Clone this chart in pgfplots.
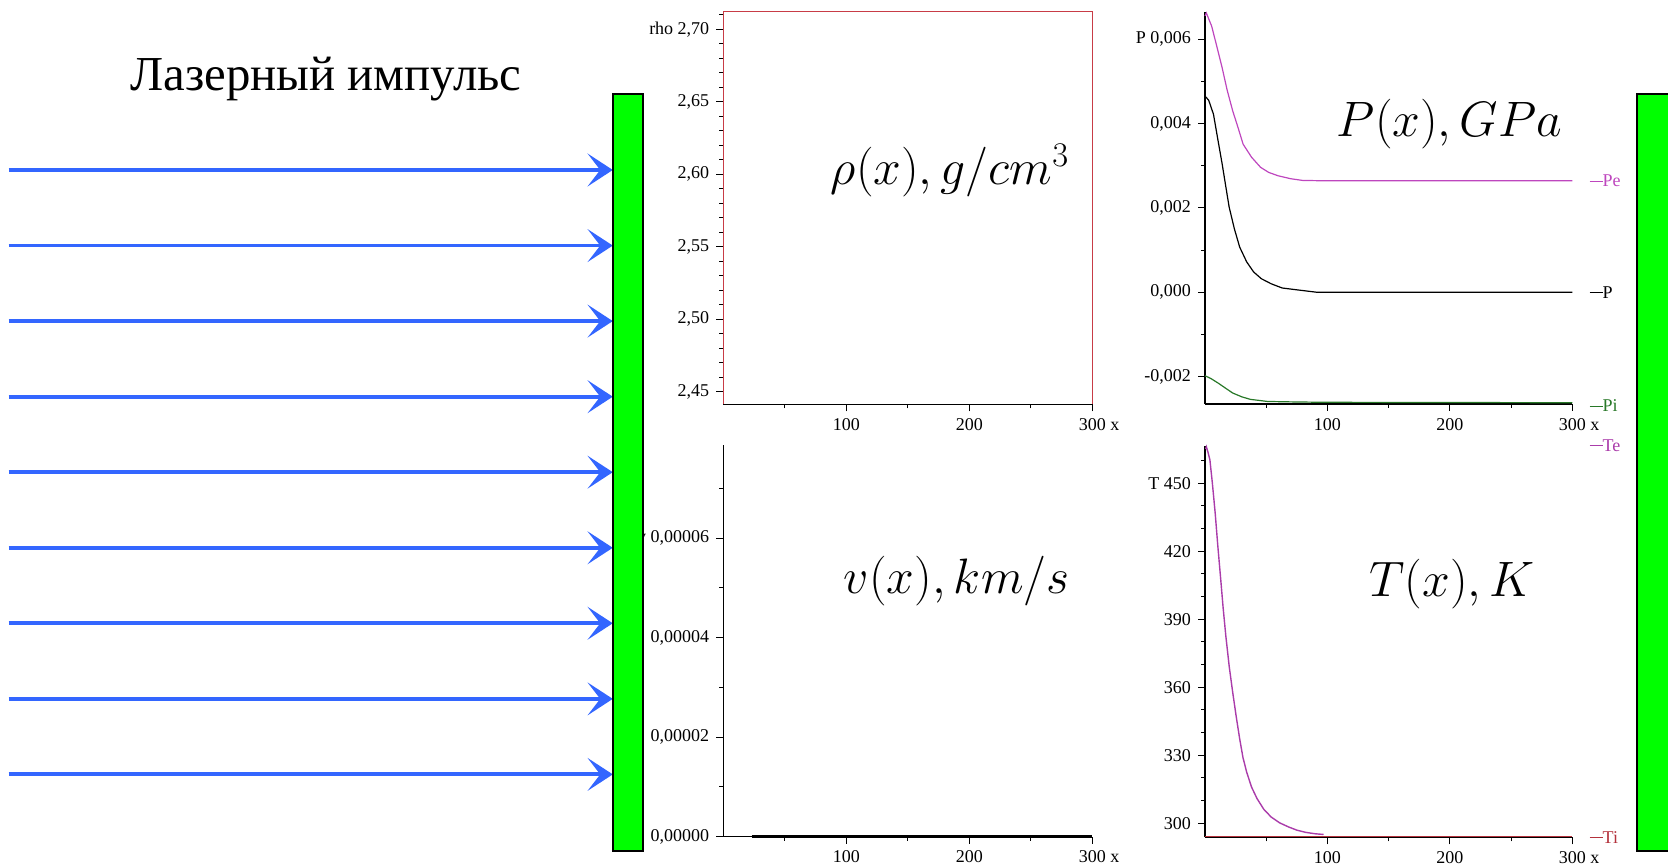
\documentclass[border=0pt]{standalone}
\usepackage{fontspec}
\setmainfont{Liberation Serif}
\usepackage{pgfplots}
\pgfplotsset{compat=1.18}
\usetikzlibrary{arrows.meta}
\definecolor{laser}{RGB}{51,102,255}
\definecolor{framered}{RGB}{200,60,70}
\definecolor{pe}{RGB}{190,70,190}
\definecolor{te}{RGB}{170,60,170}
\definecolor{pig}{RGB}{40,120,40}
\definecolor{ti}{RGB}{180,50,60}
\definecolor{bar}{RGB}{0,255,0}
\newcommand{\legdash}{\rule[0.28em]{6.5pt}{0.5pt}}
\tikzset{leg/.style={anchor=west, font=\fontsize{9}{10}\selectfont, inner sep=0pt}}
\pgfplotsset{
  maple/.style={
    scale only axis, clip=false,
    xmin=0, xmax=300,
    xtick={100,200,300}, minor xtick={50,150,250},
    xticklabels={100,200,{300\rlap{\ x}}},
    axis lines*=left, axis line style={-, line width=0.6pt},
    tick align=outside, major tick length=3.5pt, minor tick length=2pt,
    every tick/.style={black, line width=0.5pt},
    tick label style={font=\fontsize{9}{10}\selectfont},
    scaled ticks=false,
    every axis plot/.append style={no marks, line width=0.6pt},
  },
}
\begin{document}
\begin{tikzpicture}
\useasboundingbox (0pt,0pt) rectangle (834pt,432.5pt);

% ---------- rho ----------
\begin{axis}[maple, at={(361.65pt,230.35pt)}, anchor=south west,
  width=184.5pt, height=196.3pt, ymin=2.4413, ymax=2.7121,
  ytick={2.45,2.50,2.55,2.60,2.65,2.70},
  yticklabels={{2,45},{2,50},{2,55},{2,60},{2,65},{\llap{rho\ }2,70}},
  minor ytick={2.46,2.47,2.48,2.49,2.51,2.52,2.53,2.54,2.56,2.57,2.58,2.59,2.61,2.62,2.63,2.64,2.66,2.67,2.68,2.69,2.71}]
\addplot[framered, line width=0.7pt] coordinates {(0,2.4413) (0,2.7121) (300,2.7121) (300,2.4413)};
\end{axis}

% ---------- P ----------
\begin{axis}[maple, at={(602.5pt,230.5pt)}, anchor=south west,
  width=183.65pt, height=196.15pt, ymin=-0.00265, ymax=0.00665,
  ytick={-0.002,0,0.002,0.004,0.006},
  yticklabels={{-0,002},{0,000},{0,002},{0,004},{\llap{P\ }0,006}},
  minor ytick={-0.001,0.001,0.003,0.005}]
\addplot[pe] coordinates {(0,0.00655) (1.1,0.00662) (3,0.00648) (5.4,0.00631) (9,0.0059) (14,0.00532) (18,0.0048) (22.6,0.0043) (27,0.0039) (31.1,0.00351) (38,0.0032) (45.4,0.00296) (52,0.00284) (59.7,0.00276) (70,0.00269) (79.7,0.00265) (100,0.00264) (300,0.00264)};
\addplot[black] coordinates {(0,0.00465) (3,0.00455) (6.9,0.00422) (10,0.0037) (14,0.00304) (17,0.0025) (19.7,0.00202) (24,0.0015) (28.3,0.00107) (34,0.00072) (39.7,0.00048) (46,0.00032) (54,0.0002) (63,0.0001) (74,0.00006) (91,0) (300,0)};
\addplot[pig] coordinates {(0,-0.00198) (5,-0.00205) (11,-0.00216) (17,-0.00228) (22.6,-0.00239) (30,-0.00248) (37,-0.00254) (51,-0.00259) (70,-0.0026) (96,-0.00261) (300,-0.00262)};
\node[leg, text=pe, xshift=8.5pt] at (axis cs:300,0.00264) {\legdash Pe};
\node[leg, text=black, xshift=8.5pt] at (axis cs:300,0) {\legdash P};
\node[leg, text=pig, xshift=8.5pt, yshift=-1pt] at (axis cs:300,-0.00265) {\legdash Pi};
\end{axis}

% ---------- v ----------
\begin{axis}[maple, at={(361.65pt,14.15pt)}, anchor=south west,
  width=184.5pt, height=195.85pt, ymin=0, ymax=0.0000787,
  ytick={0,0.00002,0.00004,0.00006},
  yticklabels={{0,00000},{0,00002},{0,00004},{\llap{v\ }0,00006}},
  minor ytick={0.00001,0.00003,0.00005,0.00007}]
\addplot[black, line width=1.3pt] coordinates {(23,0) (100,0) (200,0) (300,0)};
\end{axis}

% ---------- T ----------
\begin{axis}[maple, at={(602.5pt,13.85pt)}, anchor=south west,
  width=183.65pt, height=195.8pt, ymin=293.85, ymax=466.5,
  ytick={300,330,360,390,420,450},
  yticklabels={300,330,360,390,420,{\llap{T\ }450}},
  minor ytick={310,320,340,350,370,380,400,410,430,440,460}]
\addplot[ti, line width=0.7pt] coordinates {(0,294.1) (100,294.1) (200,294.1) (300,294.1)};
\addplot[te, line width=0.7pt] coordinates {(0.5,465) (1.1,466) (2.5,463.5) (4,460.2) (6,450) (8.3,436.8) (10.5,422) (12.6,409) (14.8,395) (17,382.6) (19.8,369) (22.6,357.8) (25.5,347) (28.3,337.3) (31,329) (34,322.6) (38,316) (42.5,310.9) (48,306.2) (54,302.8) (61,300.2) (68.3,298.4) (75,297) (82.5,296) (90,295.4) (96.8,295.1)};
\node[leg, text=te, xshift=8.5pt] at (rel axis cs:1,1) {\legdash Te};
\node[leg, text=ti, xshift=8.5pt] at (rel axis cs:1,0) {\legdash Ti};
\end{axis}

% ---------- math titles ----------
\node[anchor=base, font=\fontsize{25}{30}\selectfont, inner sep=0pt] at (475pt,340pt) {$\rho(x), g/cm^3$};
\node[anchor=base, font=\fontsize{26.4}{30}\selectfont, inner sep=0pt] at (724.7pt,364.15pt) {$P(x), GPa$};
\node[anchor=base, font=\fontsize{24.7}{30}\selectfont, inner sep=0pt] at (478.35pt,135.85pt) {$v(x), km/s$};
\node[anchor=base, font=\fontsize{26.5}{30}\selectfont, inner sep=0pt] at (726pt,134.2pt) {$T(x), K$};

% ---------- laser pulse ----------
\node[anchor=base, font=\fontsize{24.4}{28}\selectfont, inner sep=0pt] at (162.9pt,387.15pt) {Лазерный импульс};
\foreach \yy in {347.5,309.7,271.95,234.15,196.4,158.6,120.85,83.05,45.3}
  \draw[laser, line width=1.9pt, -{Stealth[length=12.6pt,width=16.4pt,inset=6.3pt]}] (4.25pt,\yy pt) -- (306.4pt,\yy pt);

% ---------- target bars ----------
\draw[fill=bar, line width=1pt] (306.65pt,7.15pt) rectangle (321.35pt,385.35pt);
\fill[bar] (818.35pt,7.15pt) rectangle (840pt,385.35pt);
\draw[line width=1pt] (840pt,385.35pt) -- (818.35pt,385.35pt) -- (818.35pt,7.15pt) -- (840pt,7.15pt);
\end{tikzpicture}
\end{document}
